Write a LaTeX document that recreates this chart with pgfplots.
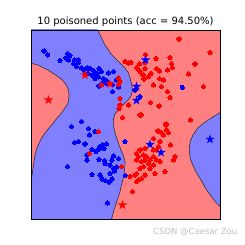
\documentclass[border=0pt]{standalone}
\usepackage{fontspec}
\setmainfont{DejaVu Sans}
\usepackage{pgfplots}
\pgfplotsset{compat=1.18}
\definecolor{bfill}{RGB}{128,128,255}
\definecolor{rfill}{RGB}{255,128,128}
\definecolor{bline}{RGB}{45,45,60}
\pgfdeclareplotmark{fstar}{%
 \pgfpathmoveto{\pgfpointpolar{90}{\pgfplotmarksize}}%
 \pgfpathlineto{\pgfpointpolar{126}{0.382\pgfplotmarksize}}%
 \pgfpathlineto{\pgfpointpolar{162}{\pgfplotmarksize}}%
 \pgfpathlineto{\pgfpointpolar{198}{0.382\pgfplotmarksize}}%
 \pgfpathlineto{\pgfpointpolar{234}{\pgfplotmarksize}}%
 \pgfpathlineto{\pgfpointpolar{270}{0.382\pgfplotmarksize}}%
 \pgfpathlineto{\pgfpointpolar{306}{\pgfplotmarksize}}%
 \pgfpathlineto{\pgfpointpolar{342}{0.382\pgfplotmarksize}}%
 \pgfpathlineto{\pgfpointpolar{18}{\pgfplotmarksize}}%
 \pgfpathlineto{\pgfpointpolar{54}{0.382\pgfplotmarksize}}%
 \pgfpathclose
 \pgfusepathqfill}
\begin{document}
\begin{tikzpicture}
\path[use as bounding box] (0,0) rectangle (245pt,245pt);
\begin{axis}[
  at={(31pt,26pt)}, anchor=south west,
  width=189pt, height=189pt, scale only axis,
  xmin=31, xmax=220, ymin=30, ymax=219, y dir=reverse,
  xtick=\empty, ytick=\empty,
  axis on top, axis line style={black, line width=0.6pt},
  axis background/.style={fill=rfill},
]
% main blue region (left)
\addplot[fill=bfill, draw=none] coordinates {
(25,25) (97.7,25) (97.7,30) (100,35) (103,41) (105,45) (108.5,50) (112,55) (118,61) (125,68)
(128.5,73) (130,78) (131.7,84.7) (132.3,91) (131,96) (128,100) (125,103) (118.3,110)
(115,114) (113.5,119) (113.3,123) (114,128) (115,133) (118.3,143) (121,150) (123.5,156)
(125,162) (124.8,168) (123.3,178) (121.5,185) (120,191.7) (116.7,201.7) (114,210) (111.5,219)
(111.5,225) (25,225)} --cycle;
% left red region
\addplot[fill=rfill, draw=none] coordinates {
(25,63.3) (31,63.3) (38,65) (48,70) (58,76.7) (63,80.5) (66.3,85) (68.5,90) (69,95) (68.5,100)
(68,103.3) (65,108) (61.3,113.3) (57,118) (53,123.3) (49,128) (44.7,133.3) (40.5,140) (37,148)
(34.7,156) (33.3,166.7) (32,175) (31,183) (25,183)} --cycle;
% right blue region
\addplot[fill=bfill, draw=none] coordinates {
(226,112.5) (220.3,112.5) (213.3,116.7) (203.3,123.3) (197.5,128.5) (193,135) (190.7,140)
(189.6,145) (189.3,150) (189.8,156) (190.7,160) (193,165.5) (195.5,171) (198.5,176) (201,180)
(206,189) (211,196) (216,202.5) (220.3,206.7) (226,206.7)} --cycle;
% boundaries
\addplot[bline, line width=0.6pt] coordinates {
(97.7,30) (100,35) (103,41) (105,45) (108.5,50) (112,55) (118,61) (125,68)
(128.5,73) (130,78) (131.7,84.7) (132.3,91) (131,96) (128,100) (125,103) (118.3,110)
(115,114) (113.5,119) (113.3,123) (114,128) (115,133) (118.3,143) (121,150) (123.5,156)
(125,162) (124.8,168) (123.3,178) (121.5,185) (120,191.7) (116.7,201.7) (114,210) (111.5,219)};
\addplot[bline, line width=0.6pt] coordinates {
(31,63.3) (38,65) (48,70) (58,76.7) (63,80.5) (66.3,85) (68.5,90) (69,95) (68.5,100)
(68,103.3) (65,108) (61.3,113.3) (57,118) (53,123.3) (49,128) (44.7,133.3) (40.5,140) (37,148)
(34.7,156) (33.3,166.7) (32,175) (31,183)};
\addplot[bline, line width=0.6pt] coordinates {
(220.3,112.5) (213.3,116.7) (203.3,123.3) (197.5,128.5) (193,135) (190.7,140)
(189.6,145) (189.3,150) (189.8,156) (190.7,160) (193,165.5) (195.5,171) (198.5,176) (201,180)
(206,189) (211,196) (216,202.5) (220.3,206.7)};
% blue points
\addplot[only marks, blue, mark=*, mark size=2.1pt, mark options={draw=blue, fill=blue, line width=0pt}] coordinates {
(44,51) (47.7,55) (60,60.5) (66,58) (67.5,53.5) (70,55.5) (68.5,60) (74.5,60) (78,60) (73.5,63.5)
(78.5,62.5) (76.5,66.5) (81.5,68) (84,70) (87,68) (90,68.5) (93.5,70.5) (99,68.5) (101.5,71.5)
(97,73.5) (92,75) (88,73.5) (95,78.5) (98.5,77) (103.5,78.5) (106.5,80.5) (108.5,73) (113.5,71.5)
(102.5,82.5) (106.5,83.5) (99,86) (112.5,84.5) (116.5,80) (118.5,87) (112.5,91.5) (81.5,121.5)
(71.5,126.5) (88.5,128.5) (89.5,135) (95,131.5) (74.5,142.5) (78.5,141.5) (85,144) (102.5,145)
(106.5,144) (100,146.5) (104,148.5) (92,149.5) (96,151.5) (99,149) (87,155) (87,160) (99,159.5)
(104.5,160.5) (113.5,156) (112,160) (118.5,158.5) (105,163.5) (110,165) (113.5,168.5) (116.5,167)
(67.5,166.5) (114.5,171) (110,173.5) (92,174.5) (100,175) (102,179) (112,179) (105.5,180.5)
(109,182) (107.5,203) (125.5,175.5) (125,141.5) (182.3,87.3) (135,90) (140,96.5)};
% red points
\addplot[only marks, red, mark=*, mark size=2.1pt, mark options={draw=red, fill=red, line width=0pt}] coordinates {
(179,39) (145.5,54.5) (156,58.5) (170,57.5) (171.5,63.5) (145,62.5) (131,62.5) (125,61.5)
(139.5,64) (210,52.5) (195,64) (136.5,67.5) (145,68.5) (156.5,68.5) (159.5,71) (167.5,70)
(172.5,67.5) (140,71.5) (151,73.5) (148.5,76.5) (143,75) (144,79) (159.5,78.5) (163.5,80)
(188.5,74) (153.5,85) (161.5,86.5) (203.5,86.5) (167.5,91.5) (170,97.5) (150.5,102.5) (159,106)
(141,115) (122.5,117.5) (166,124) (190.5,120) (118.5,78) (120,81.5) (118.5,84.5) (101.5,85)
(120,98.5) (120,105) (128.5,105) (140,115) (119,108.5) (128.5,63) (138.5,69.5)
(166,125) (166.5,130) (161.5,132.5) (158,131) (163.5,135) (168.5,132.5) (153.5,138.5) (160,141.5)
(170.5,145) (158.5,146.5) (156.5,150) (153.5,150) (145,148.5) (140,150) (136.5,153.5) (143.5,155)
(146.5,156.5) (153.5,156.5) (156.5,160) (150,160) (145,160) (138.5,156.5) (136.5,160) (141.5,161.5)
(148.5,163.5) (153.5,165) (143.5,166.5) (150,168.5) (140,168.5) (175,156.5) (173.5,160) (160,161.5)
(165,171.5) (155,173.5) (145,175) (136.5,173.5) (130,176.5) (138.5,180) (141.5,178.5) (136.5,181.5)
(132.5,191.5) (121.5,166.5) (135,175) (98.5,131.5) (89.5,153.5)};
% poisoned points (stars)
\addplot[only marks, blue, mark=fstar, mark size=5pt, mark options={fill=blue}] coordinates {
(145.5,60) (136.5,86.5) (136.5,100.5) (150,144.5) (161,152.5) (210,139.3)};
\addplot[only marks, red, mark=fstar, mark size=5pt, mark options={fill=red}] coordinates {
(85,75) (110,84) (48.5,100) (122.5,205)};
\end{axis}
\node[font=\fontsize{10}{12}\selectfont] at (125.5pt,223.3pt) {10 poisoned points (acc = 94.50\%)};
\node[anchor=west, inner sep=0pt, text=black!25, font=\fontsize{8.5}{10}\selectfont] at (153pt,12.5pt) {CSDN @Caesar Zou};
\end{tikzpicture}
\end{document}
